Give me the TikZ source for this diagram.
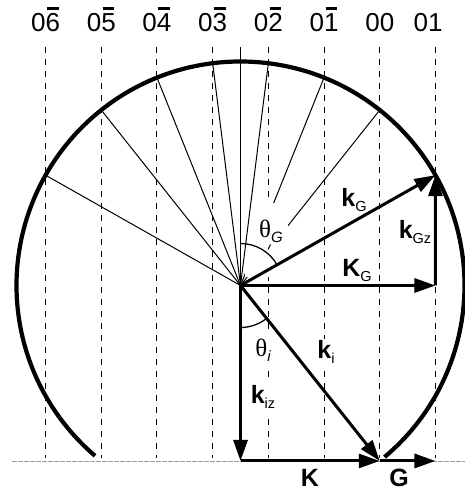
\documentclass[tikz,border=0pt]{standalone}
\usepackage{fontspec}
\setmainfont{Liberation Sans}
\newfontfamily\serifgreek{Liberation Serif}
\usetikzlibrary{arrows.meta,calc}
\newcommand\ovb[1]{\sbox0{#1}\rlap{\hspace{0.1\wd0}\raisebox{\dimexpr\ht0+4pt\relax}{\rule{0.8\wd0}{2.7pt}}}\usebox0}
\newcommand\vlab[2]{\textbf{#1}\raisebox{-5pt}{\fontsize{14.5}{14.5}\selectfont #2}}
\newcommand\tlab[1]{{\serifgreek\symbol{"03B8}}\raisebox{-5pt}{\fontsize{15}{15}\selectfont\itshape #1}}
\begin{document}
\begin{tikzpicture}[x=1pt,y=1pt,
  rodline/.style={line width=1pt, dash pattern=on 6pt off 6pt},
  rayline/.style={line width=1pt},
  baseline/.style={line width=0.8pt, gray!80, dash pattern=on 5pt off 1pt},
  vec/.style={line width=3pt, -{Triangle[length=21pt,width=14pt]}},
  sphere/.style={line width=4.2pt},
  anglearc/.style={line width=1.3pt},
  lab/.style={font=\fontsize{25}{25}\selectfont, inner sep=1.5pt, fill=white},
  rodlab/.style={font=\fontsize{26}{26}\selectfont, inner sep=0pt, anchor=base}]
\useasboundingbox (0,0) rectangle (465,495);
\def\rr{224}
\def\dd{55.7}
\coordinate (O) at (240.5,209.5);
% rods and intersections
\foreach \n in {-6,...,1}{
  \pgfmathsetmacro\xo{(\n+2.5)*\dd}
  \pgfmathsetmacro\yo{10*sqrt((\rr/10)*(\rr/10)-(\xo/10)*(\xo/10))}
  \coordinate (rt\n) at (240.5+\xo,448);
  \coordinate (rb\n) at (240.5+\xo,37);
  \coordinate (c\n) at (240.5+\xo,209.5+\yo);
  \draw[rodline] (rt\n) -- (rb\n);
}
% baseline
\coordinate (bl) at (12,34.04);
\coordinate (br) at (465,34.04);
\draw[baseline] (bl) -- (br);
% radial lines
\foreach \n in {-6,-5,-4,-3,-1,0}{ \draw[rayline] (O) -- (c\n); }
% white area behind theta_G
\fill[white] (245,218) rectangle (288,292);
\draw[rayline] (O) -- (c-2);
\coordinate (axtop) at (240.5,448);
\draw[rayline] (O) -- (axtop);
% points
\coordinate (P) at (379.75,34.04);
\coordinate (Q) at (240.5,34.04);
\coordinate (S) at (435.45,209.5);
\coordinate (T) at (435.45,34.04);
% labels
\node[rodlab] (l6) at (45.55,463.3) {0\ovb{6}};
\node[rodlab] (l5) at (101.25,463.3) {0\ovb{5}};
\node[rodlab] (l4) at (156.95,463.3) {0\ovb{4}};
\node[rodlab] (l3) at (212.65,463.3) {0\ovb{3}};
\node[rodlab] (l2) at (268.35,463.3) {0\ovb{2}};
\node[rodlab] (l1) at (324.05,463.3) {0\ovb{1}};
\node[rodlab] (l0) at (379.75,463.3) {00};
\node[rodlab] (lp1) at (428,463.3) {01};
\node[lab] (tG) at (271,264) {\tlab{G}};
\node[lab, inner ysep=5pt] (ti) at (263,145) {\tlab{i}};
\node[lab] (kG) at (354,295) {\vlab{k}{G}};
\node[lab] (kGz) at (415,263) {\vlab{k}{Gz}};
\node[lab] (KG) at (357,225) {\vlab{K}{G}};
\node[lab] (ki) at (326,143) {\vlab{k}{i}};
\node[lab, inner ysep=4pt] (kiz) at (263,98) {\vlab{k}{iz}};
\node[lab] (Klab) at (310,17) {\textbf{K}};
\node[lab] (Glab) at (399,17) {\textbf{G}};
% Ewald sphere
\draw[sphere] (O) ++(-50:\rr) arc[start angle=-50, end angle=229.5, radius=\rr];
% angle arcs
\draw[anglearc] (O) ++(90:42) arc[start angle=90, end angle=29.5, radius=42];
\draw[anglearc] (O) ++(-90:42) arc[start angle=-90, end angle=-51.6, radius=42];
\coordinate (tk1) at (268,245.5);
\coordinate (tk2) at (270.5,250.5);
\draw[line width=0.9pt] (tk1) -- (tk2);
% vectors
\draw[vec] (O) -- (c1);
\draw[vec] (O) -- (S);
\draw[vec] (S) -- (c1);
\draw[vec] (O) -- (Q);
\draw[vec] (O) -- (P);
\draw[vec] (Q) -- (P);
\draw[vec] (P) -- (T);
\end{tikzpicture}
\end{document}
